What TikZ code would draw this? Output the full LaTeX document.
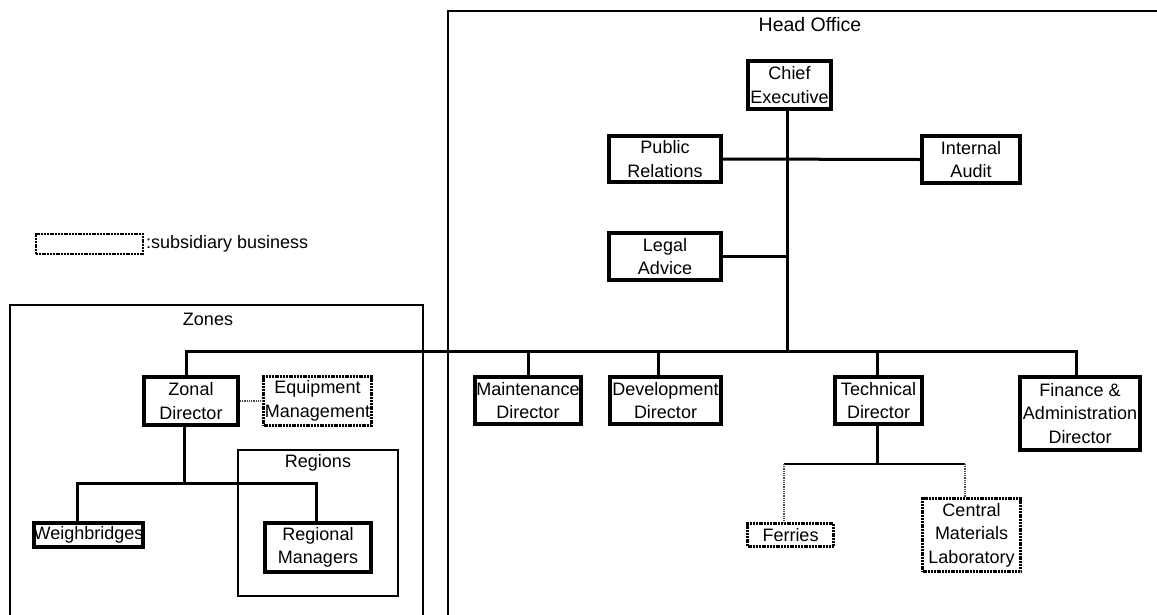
\documentclass[tikz,border=0pt]{standalone}
\usepackage{fontspec}
\setmainfont{Liberation Sans}
\usetikzlibrary{positioning}
\newcommand\orgfont{\fontsize{18}{23.5}\selectfont}

\begin{document}
\begin{tikzpicture}[
  x=1pt, y=-1pt,
  unit/.style={draw, line width=4pt, align=center, inner sep=0pt,
               font=\orgfont},
  subunit/.style={draw, dash pattern=on 2pt off 0.8pt, line width=2.5pt,
                  align=center, inner sep=0pt, font=\orgfont},
  link/.style={line width=3pt},
  sublink/.style={dash pattern=on 1pt off 0.8pt, line width=1.2pt, black!70},
  area/.style={line width=2.5pt},
  lbl/.style={font=\orgfont, inner sep=0pt}
]
  \useasboundingbox (0,0) rectangle (1157,614);

  % containers
  \draw[area] (448,616) -- (448,11) -- (1160,11);
  \node[lbl, font=\fontsize{19.5}{23.5}\selectfont] (headlbl) at (810,25) {Head Office};
  \draw[area] (10,616) -- (10,305) -- (423,305) -- (423,616);
  \node[lbl] (zoneslbl) at (208,319) {Zones};
  \draw[area] (238,450) rectangle (398,596);
  \node[lbl] (regionslbl) at (318,463) {Regions};

  % legend
  \node[subunit, line width=2pt, minimum width=107, minimum height=20]
    (legend) at (89.5,244) {};
  \node[lbl, right=2pt of legend] (legendlbl) {:subsidiary business};

  % head office
  \node[unit, minimum width=83, minimum height=48]
    (chief) at (789.5,85) {Chief\\Executive};
  \node[unit, minimum width=112, minimum height=46]
    (pr) at (665,159) {Public\\Relations};
  \node[unit, minimum width=98, minimum height=47]
    (audit) at (971,159.5) {Internal\\Audit};
  \node[unit, minimum width=112, minimum height=47]
    (legal) at (665,256.5) {Legal\\Advice};

  \node[unit, minimum width=106, minimum height=47]
    (maint) at (528,400.5) {Maintenance\\Director};
  \node[unit, minimum width=111, minimum height=47]
    (dev) at (665.5,400.5) {Development\\Director};
  \node[unit, minimum width=87, minimum height=47]
    (tech) at (878.5,400.5) {Technical\\Director};
  \node[unit, minimum width=120, minimum height=73]
    (fin) at (1080,413.5) {Finance \&\\Administration\\Director};

  \node[subunit, minimum width=86, minimum height=23]
    (ferries) at (790.5,535) {Ferries};
  \node[subunit, minimum width=98, minimum height=73]
    (cml) at (971.5,535) {Central\\Materials\\Laboratory};

  % zones
  \node[unit, minimum width=94, minimum height=48]
    (zonal) at (191,401) {Zonal\\Director};
  \node[subunit, minimum width=108, minimum height=49]
    (equip) at (317.5,401) {Equipment\\Management};
  \node[unit, minimum width=107, minimum height=24]
    (weigh) at (88.5,535) {Weighbridges};
  \node[unit, minimum width=106, minimum height=49]
    (regional) at (318,547.5) {Regional\\Managers};

  % connectors
  \coordinate (bus) at (787,351);
  \draw[link] ([xshift=-2.5]chief.south) -- (bus);
  \draw[link] (pr.east) -- (audit.west);
  \draw[link] (legal.east) -- (legal.east -| bus);
  \draw[link] ([xshift=-5]zonal.north) |- (bus)
    -| ([xshift=-4]fin.north);
  \draw[link] (maint.north) -- (maint.north |- bus);
  \draw[link] ([xshift=-7]dev.north) -- ([xshift=-7]dev.north |- bus);
  \draw[link] ([xshift=-1.5]tech.north) -- ([xshift=-1.5]tech.north |- bus);

  \draw[link] ([xshift=-1.5]tech.south) -- ++(0,38) coordinate (techbus);
  \draw[line width=2pt] ([xshift=-6.5]ferries.north |- techbus)
    -- ([xshift=-6.5]cml.north |- techbus);
  \draw[sublink] ([xshift=-6.5]ferries.north |- techbus)
    -- ([xshift=-6.5]ferries.north);
  \draw[sublink] ([xshift=-6.5]cml.north |- techbus)
    -- ([xshift=-6.5]cml.north);

  \draw[sublink] (zonal.east) -- (equip.west);
  \draw[link] ([xshift=-7]zonal.south) -- ++(0,56) coordinate (zonebus);
  \draw[link] ([xshift=-11.5]weigh.north) |- (zonebus)
    -| ([xshift=-2]regional.north);
\end{tikzpicture}
\end{document}
